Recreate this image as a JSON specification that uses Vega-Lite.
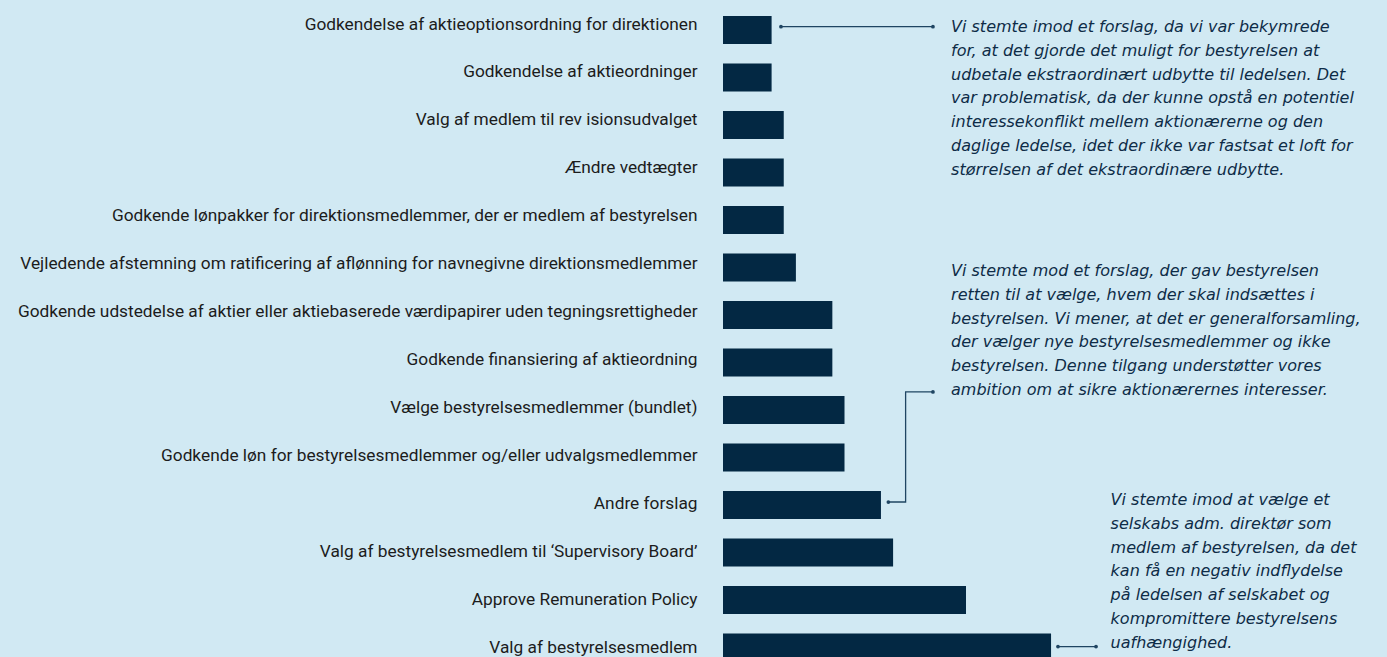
{
  "$schema": "https://vega.github.io/schema/vega-lite/v6.json",
  "width": 664,
  "height": 677.5,
  "autosize": {"type": "none"},
  "padding": {"left": 723, "top": 0, "right": 0, "bottom": 0},
  "background": "#d1e9f3",
  "config": {"view": {"stroke": null}},
  "datasets": {
    "bars": [
      {"label": "Godkendelse af aktieoptionsordning for direktionen", "value": 4},
      {"label": "Godkendelse af aktieordninger", "value": 4},
      {"label": "Valg af medlem til rev isionsudvalget", "value": 5},
      {"label": "Ændre vedtægter", "value": 5},
      {"label": "Godkende lønpakker for direktionsmedlemmer, der er medlem af bestyrelsen", "value": 5},
      {"label": "Vejledende afstemning om ratificering af aflønning for navnegivne direktionsmedlemmer", "value": 6},
      {"label": "Godkende udstedelse af aktier eller aktiebaserede værdipapirer uden tegningsrettigheder", "value": 9},
      {"label": "Godkende finansiering af aktieordning", "value": 9},
      {"label": "Vælge bestyrelsesmedlemmer (bundlet)", "value": 10},
      {"label": "Godkende løn for bestyrelsesmedlemmer og/eller udvalgsmedlemmer", "value": 10},
      {"label": "Andre forslag", "value": 13},
      {"label": "Valg af bestyrelsesmedlem til ‘Supervisory Board’", "value": 14},
      {"label": "Approve Remuneration Policy", "value": 20},
      {"label": "Valg af bestyrelsesmedlem", "value": 27}
    ],
    "links": [
      {"id": "a", "step": 1, "x": 4.77, "pos": -0.07, "end": true},
      {"id": "a", "step": 2, "x": 17.28, "pos": -0.07, "end": true},
      {"id": "b", "step": 1, "x": 13.61, "pos": 9.937, "end": true},
      {"id": "b", "step": 2, "x": 15.03, "pos": 9.937, "end": false},
      {"id": "b", "step": 3, "x": 15.03, "pos": 7.62, "end": false},
      {"id": "b", "step": 4, "x": 17.28, "pos": 7.62, "end": true},
      {"id": "c", "step": 1, "x": 27.57, "pos": 12.98, "end": true},
      {"id": "c", "step": 2, "x": 30.7, "pos": 12.98, "end": true}
    ],
    "notes": [
      {"x": 18.77, "pos": 0.042, "lines": ["Vi stemte imod et forslag, da vi var bekymrede", "for, at det gjorde det muligt for bestyrelsen at", "udbetale ekstraordinært udbytte til ledelsen. Det", "var problematisk, da der kunne opstå en potentiel", "interessekonflikt mellem aktionærerne og den", "daglige ledelse, idet der ikke var fastsat et loft for", "størrelsen af det ekstraordinære udbytte."]},
      {"x": 18.77, "pos": 5.18, "lines": ["Vi stemte mod et forslag, der gav bestyrelsen", "retten til at vælge, hvem der skal indsættes i", "bestyrelsen. Vi mener, at det er generalforsamling,", "der vælger nye bestyrelsesmedlemmer og ikke", "bestyrelsen. Denne tilgang understøtter vores", "ambition om at sikre aktionærernes interesser."]},
      {"x": 31.9, "pos": 10.0, "lines": ["Vi stemte imod at vælge et", "selskabs adm. direktør som", "medlem af bestyrelsen, da det", "kan få en negativ indflydelse", "på ledelsen af selskabet og", "kompromittere bestyrelsens", "uafhængighed."]}
    ]
  },
  "layer": [
    {
      "data": {"name": "bars"},
      "mark": {"type": "bar", "color": "#032843"},
      "encoding": {
        "y": {
          "field": "label", "type": "nominal", "sort": null,
          "scale": {"paddingInner": 0.41, "paddingOuter": 0.337},
          "axis": {"title": null, "domain": false, "ticks": false, "grid": false, "labelPadding": 26, "labelFont": "Roboto", "labelFontSize": 17.3, "labelColor": "#1c1c1c", "labelLimit": 0, "labelOffset": {"expr": "-5.5 + 6 * datum.index"}}
        },
        "x": {"field": "value", "type": "quantitative", "scale": {"domain": [0, 54.65], "nice": false}, "axis": null}
      }
    },
    {
      "layer": [
        {
          "data": {"name": "links"},
          "mark": {"type": "line", "color": "#1f4562", "strokeWidth": 1.3},
          "encoding": {
            "x": {"field": "x", "type": "quantitative"},
            "y": {"field": "pos", "type": "quantitative", "scale": {"domain": [-0.6316, 13.6316], "reverse": true, "nice": false, "zero": false}, "axis": null},
            "detail": {"field": "id"},
            "order": {"field": "step"}
          }
        },
        {
          "data": {"name": "links"},
          "transform": [{"filter": "datum.end"}],
          "mark": {"type": "point", "filled": true, "color": "#1f4562", "size": 14, "opacity": 1},
          "encoding": {
            "x": {"field": "x", "type": "quantitative"},
            "y": {"field": "pos", "type": "quantitative"}
          }
        },
        {
          "data": {"name": "notes"},
          "mark": {"type": "text", "align": "left", "baseline": "alphabetic", "font": "DejaVu Sans", "fontStyle": "italic", "fontSize": 16, "lineHeight": 23.8, "color": "#0e2c47"},
          "encoding": {
            "x": {"field": "x", "type": "quantitative"},
            "y": {"field": "pos", "type": "quantitative"},
            "text": {"field": "lines"}
          }
        }
      ]
    }
  ],
  "resolve": {"scale": {"y": "independent"}}
}
